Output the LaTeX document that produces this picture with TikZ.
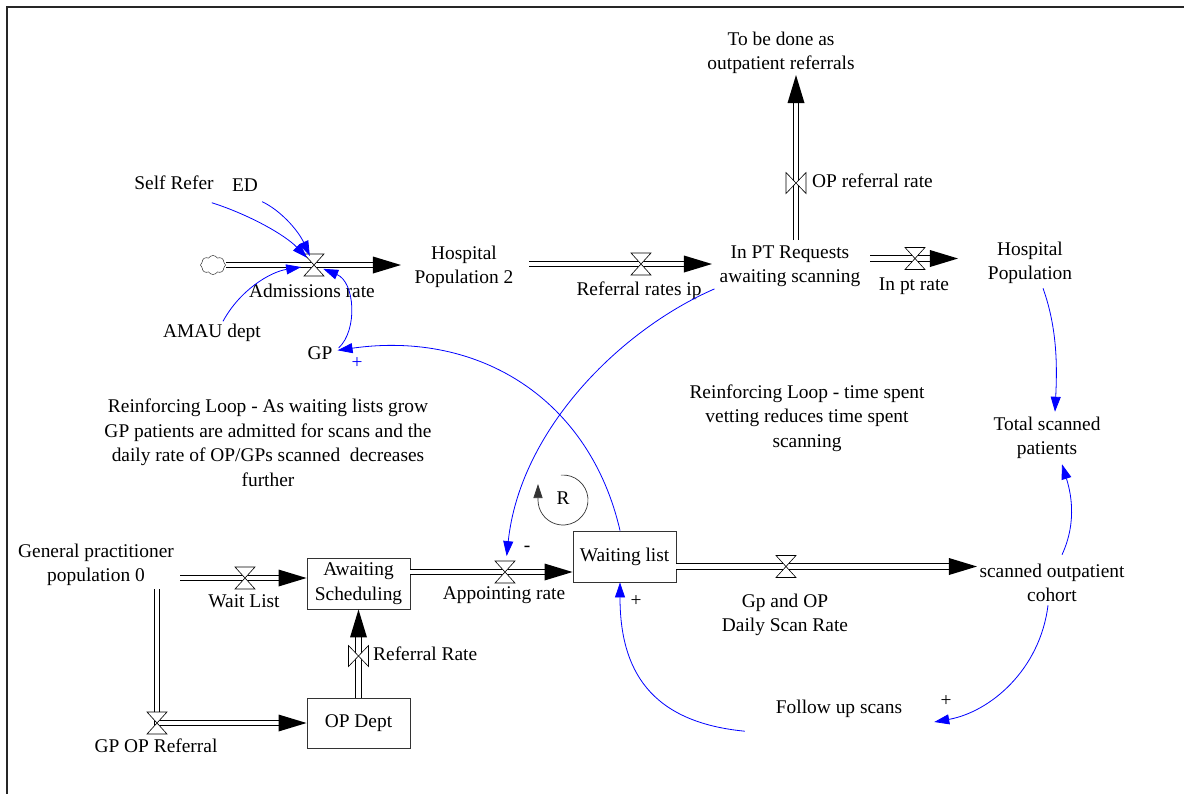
\documentclass[tikz,border=0pt]{standalone}
\usepackage{fontspec}
\setmainfont{Liberation Serif}
\usetikzlibrary{arrows.meta,shapes.symbols,decorations.markings}
\newcommand{\lblfont}{\fontsize{19.4}{24.5}\selectfont}
\begin{document}
\begin{tikzpicture}[x=1pt,y=-1pt,
  txt/.style={font=\lblfont, inner sep=0pt, text height=13pt, text depth=4pt},
  mtxt/.style={font=\lblfont, inner sep=0pt, align=center},
  stockbox/.style={draw=black!80, line width=0.9pt, font=\lblfont, align=center,
    inner sep=0pt, minimum width=103pt, minimum height=51pt},
  pipe/.style={draw=black, line width=0.9pt, double=white, double distance=4.4pt, shorten >=26pt},
  flowtip/.style={decorate, decoration={markings, mark=at position 0.9999 with
    {\fill[black] (0pt,0pt) -- (-28pt,8.5pt) -- (-28pt,-8.5pt) -- cycle;}}},
  infolink/.style={draw=blue, line width=0.8pt, -{Triangle[length=15pt,width=10pt]}},
  rloop/.style={draw=black!80, line width=0.7pt, -{Triangle[length=14pt,width=9pt]}},
  signlbl/.style={font=\lblfont, inner sep=0pt},
  valve/.pic={\draw[black, line width=0.6pt, fill=white]
    (-10pt,-11pt) -- (10pt,-11pt) -- (0pt,0pt) -- cycle
    (-10pt,11pt) -- (10pt,11pt) -- (0pt,0pt) -- cycle;},
  valveside/.pic={\draw[black, line width=0.6pt, fill=white]
    (-10pt,-10.5pt) -- (-10pt,10.5pt) -- (0pt,0pt) -- cycle
    (10pt,-10.5pt) -- (10pt,10.5pt) -- (0pt,0pt) -- cycle;}
]
\useasboundingbox (0,0) rectangle (1184,793);
% outer frame (open to the right and bottom)
\draw[line width=2pt, black!85] (7,800) -- (7,7) -- (1190,7);

% ---------- stocks, sources and labels ----------
\node[cloud, draw=black!80, line width=0.5pt, cloud puffs=8, cloud puff arc=120, aspect=1.3,
      minimum width=25pt, minimum height=19pt, inner sep=0pt] (src) at (213,265) {};
\node[txt] (selfref) at (174,185) {Self Refer};
\node[txt] (ed) at (245,187) {ED};
\node[txt] (admlbl) at (312,293) {Admissions rate};
\node[txt] (amau) at (212,333) {AMAU dept};
\node[txt] (gp) at (320,355) {GP};
\node[mtxt] (hp2) at (464,267) {Hospital\\Population 2};
\node[txt] (reflbl) at (639,291) {Referral rates ip};
\node[mtxt] (inpt) at (790,266) {In PT Requests\\awaiting scanning};
\node[txt] (inptlbl) at (914,286) {In pt rate};
\node[mtxt] (hpop) at (1030,263) {Hospital\\Population};
\node[mtxt] (tbd) at (781,53) {To be done as\\outpatient referrals};
\node[txt, anchor=west] (oplbl) at (812,183) {OP referral rate};
\node[mtxt] (loopa) at (268,443) {Reinforcing Loop - As waiting lists grow\\GP patients are admitted for scans and the\\daily rate of OP/GPs scanned~ decreases\\further};
\node[mtxt] (loopb) at (807,418) {Reinforcing Loop - time spent\\vetting reduces time spent\\scanning};
\node[mtxt] (total) at (1047,438) {Total scanned\\patients};
\node[mtxt] (gp0) at (96,565) {General practitioner\\population 0};
\node[txt] (waitlbl) at (244,603) {Wait List};
\node[stockbox] (await) at (358.5,583.5) {Awaiting\\Scheduling};
\node[txt, anchor=west] (rrlbl) at (373,656) {Referral Rate};
\node[stockbox, minimum height=50pt] (opdept) at (358.5,723) {OP Dept};
\node[txt] (gpoplbl) at (156,748) {GP OP Referral};
\node[txt] (applbl) at (504,595) {Appointing rate};
\node[stockbox] (wait) at (624.5,556.5) {Waiting list};
\node[mtxt] (scanlbl) at (785,615) {Gp and OP\\Daily Scan Rate};
\node[mtxt] (cohort) at (1052,583) {scanned outpatient\\cohort};
\node[txt] (follow) at (839,709) {Follow up scans};
\node[txt] (rlbl) at (563,500) {R};
\node[signlbl] (minusapp) at (527,549) {-};
\node[signlbl, text=blue] (plusgp) at (357,363) {+};
\node[signlbl] (pluswait) at (636,601) {+};
\node[signlbl] (plusfollow) at (946,701) {+};

% ---------- pipe end points ----------
\coordinate (hp2in) at (401,265);
\coordinate (hp2out) at (529,264);
\coordinate (inptin) at (712,264);
\coordinate (inptout) at (870,258.5);
\coordinate (hpopin) at (958,258.5);
\coordinate (inptup) at (796,240);
\coordinate (tbdin) at (796,75);
\coordinate (gp0out) at (180,578);
\coordinate (gp0down) at (157,589);
\coordinate (awaitout) at (410,572);
\coordinate (waitout) at (676,566.5);
\coordinate (cohortin) at (977,566.5);

% ---------- flows ----------
\draw[pipe] (src.east) -- (hp2in);            \path[flowtip] (src.east) -- (hp2in);
\draw[pipe] (hp2out) -- (inptin);             \path[flowtip] (hp2out) -- (inptin);
\draw[pipe] (inptout) -- (hpopin);            \path[flowtip] (inptout) -- (hpopin);
\draw[pipe] (inptup) -- (tbdin);              \path[flowtip] (inptup) -- (tbdin);
\draw[pipe] (gp0out) -- (gp0out -| await.west);   \path[flowtip] (gp0out) -- (gp0out -| await.west);
\draw[pipe] (gp0down) |- (opdept.west);       \path[flowtip] (gp0down) |- (opdept.west);
\draw[pipe] (opdept.north) -- (await.south);  \path[flowtip] (opdept.north) -- (await.south);
\draw[pipe] (awaitout) -- (awaitout -| wait.west); \path[flowtip] (awaitout) -- (awaitout -| wait.west);
\draw[pipe] (waitout) -- (cohortin);          \path[flowtip] (waitout) -- (cohortin);

% ---------- valves ----------
\coordinate (vadm) at (314,265);
\coordinate (vref) at (641,264);
\coordinate (vinpt) at (915,258.5);
\coordinate (vop) at (796,183);
\coordinate (vwl) at (245,578);
\coordinate (vgpop) at (157,723);
\coordinate (vrr) at (358.5,656);
\coordinate (vapp) at (505,572);
\coordinate (vscan) at (786,566.5);
\pic at (vadm) {valve};
\pic at (vref) {valve};
\pic at (vinpt) {valve};
\pic at (vop) {valveside};
\pic at (vwl) {valve};
\pic at (vgpop) {valve};
\pic at (vrr) {valveside};
\pic at (vapp) {valve};
\pic at (vscan) {valve};

% ---------- information links ----------
\draw[infolink, shorten >=10pt] ([shift={(-2pt,-9pt)}]selfref.south east) .. controls (250,215) and (285,235) .. (vadm);
\draw[infolink, shorten >=10pt] ([shift={(4pt,-6pt)}]ed.south east) .. controls (280,210) and (298,230) .. (vadm);
\draw[infolink, shorten >=13pt] ([shift={(11pt,3pt)}]amau.north) .. controls (240,290) and (270,272) .. (vadm);
\draw[infolink, shorten >=10pt] ([shift={(6pt,7pt)}]gp.east) .. controls (358,330) and (355,282) .. (vadm);
\draw[infolink, shorten >=5pt] ([xshift=-4.5pt]wait.north) .. controls (590,400) and (480,330) .. ([yshift=4pt]gp.east);
\draw[infolink, shorten >=16pt] ([shift={(-5pt,-2pt)}]inpt.south west) .. controls (620,330) and (520,430) .. (vapp);
\draw[infolink] ([shift={(13pt,-4pt)}]hpop.south) .. controls (1058,330) and (1057,370) .. ([shift={(8pt,5pt)}]total.north);
\draw[infolink] ([shift={(10pt,9pt)}]cohort.north) .. controls (1078,520) and (1070,490) .. ([shift={(15pt,-5pt)}]total.south);
\draw[infolink] ([shift={(-4pt,-3pt)}]cohort.south) .. controls (1040,670) and (990,712) .. ([shift={(32pt,-13pt)}]follow.east);
\draw[infolink] ([shift={(-31pt,-13.5pt)}]follow.south west) .. controls (650,722) and (620,670) .. ([xshift=-4.5pt]wait.south);

% ---------- loop marker ----------
\draw[rloop] ([shift={(95:25pt)}]rlbl.center) arc[start angle=95, end angle=-180, radius=25pt] -- ++(0pt,16pt);
\end{tikzpicture}
\end{document}
